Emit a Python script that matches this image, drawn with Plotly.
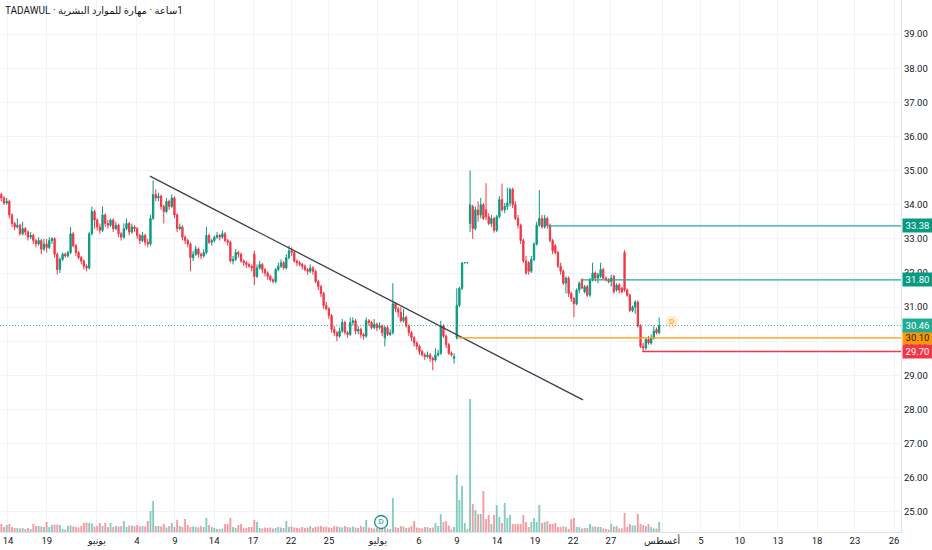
import plotly.graph_objects as go

# hourly bars, x = bar number
bar_index = list(range(248))

opens = [
    34.30, 34.20, 34.05, 34.10, 33.70, 33.45, 33.35, 33.40, 33.15, 33.30,
    33.20, 33.05, 33.10, 32.95, 32.85, 32.95, 32.70, 32.85, 32.75, 32.95,
    33.00, 32.55, 32.10, 32.40, 32.55, 32.50, 32.60, 33.15, 32.80, 32.60,
    32.45, 32.35, 32.20, 32.15, 33.15, 33.80, 33.55, 33.35, 33.25, 33.70,
    33.45, 33.40, 33.55, 33.30, 33.40, 33.15, 33.05, 33.30, 33.45, 33.20,
    33.35, 33.30, 33.10, 32.95, 33.10, 32.90, 32.85, 33.60, 34.30, 34.20,
    34.25, 33.95, 33.80, 34.10, 33.95, 34.20, 33.70, 33.30, 33.35, 33.05,
    32.95, 32.85, 32.45, 32.55, 32.70, 32.55, 32.50, 32.60, 33.10, 32.90,
    32.95, 33.05, 33.10, 33.05, 33.15, 32.95, 32.90, 32.35, 32.40, 32.60,
    32.55, 32.35, 32.30, 32.25, 32.20, 32.55, 31.90, 32.15, 32.25, 32.10,
    32.00, 31.90, 31.80, 31.75, 32.10, 32.20, 32.30, 32.15, 32.45, 32.65,
    32.60, 32.35, 32.30, 32.25, 32.20, 32.10, 32.05, 32.15, 32.05, 31.75,
    31.60, 31.40, 31.05, 30.95, 30.75, 30.35, 30.25, 30.15, 30.30, 30.55,
    30.25, 30.20, 30.55, 30.60, 30.30, 30.35, 30.20, 30.15, 30.60, 30.55,
    30.40, 30.50, 30.40, 30.45, 30.10, 30.40, 30.20, 30.25, 31.10, 30.95,
    30.85, 30.60, 30.70, 30.45, 30.25, 30.10, 29.95, 29.85, 29.70, 29.60,
    29.55, 29.60, 29.50, 29.45, 29.60, 29.65, 30.45, 30.15, 29.90, 29.65,
    29.50, 30.10, 31.05, 31.55, 32.30, 32.30, 33.45, 33.95, 33.30, 33.85,
    33.70, 34.00, 33.85, 33.65, 33.45, 33.60, 33.25, 33.65, 34.15, 33.85,
    33.95, 34.05, 34.45, 34.00, 33.60, 33.40, 32.95, 32.35, 32.30, 32.05,
    32.40, 32.85, 33.40, 33.60, 33.35, 33.60, 33.40, 32.95, 32.80, 32.60,
    32.20, 32.05, 31.70, 31.85, 31.40, 31.25, 31.10, 31.50, 31.80, 31.45,
    31.60, 31.35, 31.80, 32.00, 31.85, 31.90, 32.10, 31.85, 31.80, 31.75,
    31.90, 31.50, 31.65, 31.55, 32.60, 31.50, 31.35, 30.90, 31.00, 31.15,
    30.45, 29.85, 29.80, 30.05, 29.95, 30.10, 30.35, 30.25,
]

highs = [
    34.35, 34.25, 34.20, 34.15, 33.75, 33.50, 33.60, 33.45, 33.50, 33.35,
    33.25, 33.20, 33.15, 33.00, 33.05, 33.00, 33.00, 33.00, 33.05, 33.05,
    33.05, 32.60, 32.45, 32.60, 32.60, 32.65, 33.35, 33.20, 32.85, 32.65,
    32.50, 32.40, 32.25, 33.20, 33.95, 33.85, 33.60, 33.45, 33.95, 33.75,
    33.55, 33.60, 33.60, 33.50, 33.45, 33.20, 33.45, 33.60, 33.50, 33.45,
    33.40, 33.35, 33.15, 33.20, 33.15, 33.00, 33.70, 34.72, 34.45, 34.35,
    34.30, 34.00, 34.20, 34.15, 34.30, 34.25, 33.75, 33.45, 33.40, 33.10,
    33.00, 32.90, 32.65, 32.80, 32.75, 32.60, 32.70, 33.35, 33.15, 33.00,
    33.10, 33.20, 33.15, 33.25, 33.20, 33.00, 32.95, 32.50, 32.70, 32.65,
    32.60, 32.40, 32.35, 32.30, 32.25, 32.65, 32.25, 32.35, 32.30, 32.15,
    32.05, 31.95, 31.85, 32.15, 32.30, 32.40, 32.35, 32.55, 32.80, 32.75,
    32.65, 32.40, 32.35, 32.30, 32.25, 32.15, 32.25, 32.20, 32.10, 31.80,
    31.65, 31.45, 31.15, 31.00, 30.80, 30.45, 30.30, 30.40, 30.65, 30.60,
    30.30, 30.70, 30.70, 30.65, 30.45, 30.40, 30.25, 30.70, 30.65, 30.60,
    30.65, 30.55, 30.55, 30.50, 30.45, 30.45, 30.35, 31.70, 31.15, 31.00,
    31.00, 30.95, 30.75, 30.50, 30.30, 30.15, 30.00, 29.90, 29.75, 29.65,
    29.70, 29.65, 29.55, 29.80, 29.75, 30.60, 30.50, 30.20, 29.95, 29.70,
    29.65, 31.55, 31.60, 32.30, 32.30, 32.30, 35.00, 34.00, 33.95, 34.10,
    34.20, 34.05, 34.63, 33.75, 33.70, 33.65, 33.70, 34.25, 34.62, 34.05,
    34.50, 34.50, 34.50, 34.10, 33.70, 33.45, 33.00, 32.50, 32.35, 32.50,
    32.90, 33.50, 34.43, 33.70, 33.70, 33.65, 33.45, 33.00, 32.85, 32.65,
    32.30, 32.10, 31.90, 31.90, 31.45, 31.30, 31.55, 31.75, 31.85, 31.65,
    31.65, 31.85, 32.30, 32.05, 32.00, 32.30, 32.15, 31.90, 31.85, 31.95,
    31.95, 31.70, 31.70, 31.60, 32.67, 31.55, 31.40, 31.05, 31.20, 31.20,
    30.50, 29.95, 30.10, 30.15, 30.20, 30.45, 30.40, 30.70,
]

lows = [
    34.10, 34.00, 34.00, 33.60, 33.35, 33.25, 33.30, 33.10, 33.10, 33.10,
    32.95, 33.00, 32.85, 32.75, 32.80, 32.55, 32.65, 32.60, 32.70, 32.85,
    32.45, 31.95, 32.00, 32.35, 32.45, 32.45, 32.55, 32.75, 32.50, 32.40,
    32.25, 32.10, 32.05, 32.10, 33.10, 33.30, 33.25, 33.15, 33.20, 33.35,
    33.30, 33.35, 33.20, 33.25, 33.05, 32.95, 33.00, 33.25, 33.10, 33.15,
    33.20, 33.00, 32.85, 32.90, 32.80, 32.75, 32.80, 33.55, 34.10, 34.10,
    33.85, 33.45, 33.75, 33.85, 33.90, 33.60, 33.20, 33.25, 32.95, 32.85,
    32.75, 32.05, 32.35, 32.50, 32.45, 32.40, 32.45, 32.55, 32.85, 32.80,
    32.90, 33.00, 32.95, 33.00, 32.90, 32.80, 32.30, 32.25, 32.35, 32.45,
    32.30, 32.20, 32.15, 32.15, 32.05, 31.65, 31.85, 32.10, 32.00, 31.90,
    31.80, 31.75, 31.70, 31.70, 32.05, 32.15, 32.10, 32.10, 32.40, 32.50,
    32.30, 32.20, 32.20, 32.10, 32.05, 31.95, 32.00, 31.95, 31.70, 31.50,
    31.30, 30.95, 30.90, 30.65, 30.25, 30.15, 30.00, 30.10, 30.25, 30.20,
    30.10, 30.15, 30.45, 30.20, 30.20, 30.10, 30.05, 30.10, 30.45, 30.35,
    30.35, 30.30, 30.35, 30.15, 29.85, 30.15, 30.15, 30.20, 30.85, 30.70,
    30.55, 30.55, 30.40, 30.15, 30.00, 29.85, 29.75, 29.60, 29.55, 29.45,
    29.50, 29.40, 29.15, 29.40, 29.55, 29.60, 30.10, 29.80, 29.60, 29.55,
    29.35, 30.05, 31.00, 31.50, 32.30, 32.30, 33.20, 33.00, 33.25, 33.50,
    33.60, 33.55, 33.55, 33.40, 33.35, 33.18, 33.20, 33.60, 33.80, 33.75,
    33.85, 33.95, 33.90, 33.55, 33.30, 32.85, 32.30, 31.95, 31.95, 32.00,
    32.35, 32.80, 33.35, 33.30, 33.30, 33.30, 32.90, 32.55, 32.55, 32.15,
    31.95, 31.65, 31.40, 31.30, 31.15, 30.70, 31.05, 31.40, 31.55, 31.40,
    31.30, 31.30, 31.75, 31.75, 31.70, 31.85, 31.80, 31.75, 31.70, 31.60,
    31.40, 31.45, 31.40, 31.40, 31.45, 31.30, 30.85, 30.85, 30.80, 30.40,
    29.80, 29.70, 29.75, 29.90, 29.90, 30.05, 30.20, 30.20,
]

closes = [
    34.20, 34.05, 34.10, 33.70, 33.45, 33.35, 33.40, 33.15, 33.30, 33.20,
    33.05, 33.10, 32.95, 32.85, 32.95, 32.70, 32.85, 32.75, 32.95, 33.00,
    32.55, 32.10, 32.40, 32.55, 32.50, 32.60, 33.15, 32.80, 32.60, 32.45,
    32.35, 32.20, 32.15, 33.15, 33.80, 33.55, 33.35, 33.25, 33.70, 33.45,
    33.40, 33.55, 33.30, 33.40, 33.15, 33.05, 33.30, 33.45, 33.20, 33.35,
    33.30, 33.10, 32.95, 33.10, 32.90, 32.85, 33.60, 34.30, 34.20, 34.25,
    33.95, 33.80, 34.10, 33.95, 34.20, 33.70, 33.30, 33.35, 33.05, 32.95,
    32.85, 32.45, 32.55, 32.70, 32.55, 32.50, 32.60, 33.10, 32.90, 32.95,
    33.05, 33.10, 33.05, 33.15, 32.95, 32.90, 32.35, 32.40, 32.60, 32.55,
    32.35, 32.30, 32.25, 32.20, 32.15, 31.90, 32.15, 32.25, 32.10, 32.00,
    31.90, 31.80, 31.75, 32.10, 32.20, 32.30, 32.15, 32.45, 32.65, 32.60,
    32.35, 32.30, 32.25, 32.20, 32.10, 32.05, 32.15, 32.05, 31.75, 31.60,
    31.40, 31.05, 30.95, 30.75, 30.35, 30.25, 30.15, 30.30, 30.55, 30.25,
    30.20, 30.55, 30.60, 30.30, 30.35, 30.20, 30.15, 30.60, 30.55, 30.40,
    30.50, 30.40, 30.45, 30.25, 30.40, 30.20, 30.25, 31.10, 30.95, 30.85,
    30.60, 30.70, 30.45, 30.25, 30.10, 29.95, 29.85, 29.70, 29.60, 29.55,
    29.60, 29.50, 29.45, 29.60, 29.65, 30.45, 30.15, 29.90, 29.65, 29.60,
    29.55, 31.05, 31.55, 32.30, 32.30, 32.30, 34.00, 33.30, 33.85, 33.70,
    34.00, 33.60, 33.65, 33.45, 33.60, 33.25, 33.65, 34.15, 33.85, 33.95,
    34.05, 34.45, 34.00, 33.60, 33.40, 32.95, 32.35, 32.00, 32.05, 32.40,
    32.85, 33.40, 33.60, 33.35, 33.60, 33.40, 32.95, 32.65, 32.60, 32.20,
    32.05, 31.70, 31.85, 31.40, 31.25, 31.10, 31.50, 31.70, 31.55, 31.60,
    31.35, 31.80, 32.00, 31.85, 31.95, 32.10, 31.85, 31.80, 31.75, 31.85,
    31.45, 31.65, 31.50, 31.45, 31.50, 31.35, 30.90, 31.00, 31.15, 30.45,
    29.85, 29.80, 30.05, 29.95, 30.10, 30.30, 30.25, 30.46,
]

# volume in thousands of shares
volumes = [
    80, 50, 70, 80, 50, 40, 40, 35, 40, 30,
    40, 30, 80, 60, 60, 55, 50, 100, 50, 70,
    75, 75, 70, 30, 25, 60, 65, 55, 50, 45,
    60, 90, 95, 90, 85, 55, 60, 90, 60, 90,
    50, 90, 50, 60, 55, 60, 110, 50, 65, 65,
    60, 70, 55, 60, 55, 110, 210, 310, 60, 60,
    55, 80, 45, 60, 90, 50, 120, 60, 50, 130,
    70, 50, 55, 50, 45, 60, 50, 140, 70, 50,
    40, 30, 30, 35, 80, 80, 140, 50, 40, 70,
    80, 35, 40, 50, 50, 120, 100, 40, 35, 45,
    40, 45, 35, 40, 50, 45, 40, 110, 50, 55,
    45, 40, 35, 50, 40, 45, 60, 40, 50, 55,
    60, 50, 55, 45, 40, 60, 55, 50, 45, 60,
    50, 45, 55, 45, 40, 60, 50, 120, 45, 40,
    35, 40, 30, 45, 40, 35, 30, 340, 50, 40,
    60, 55, 40, 45, 60, 110, 45, 40, 35, 50,
    50, 40, 45, 90, 60, 180, 100, 110, 65, 25,
    50, 570, 320, 460, 90, 30, 1330, 280, 220, 180,
    180, 410, 130, 170, 80, 170, 270, 150, 90, 290,
    140, 170, 80, 80, 80, 80, 170, 100, 50, 100,
    140, 100, 270, 90, 100, 110, 80, 80, 90, 50,
    50, 55, 50, 30, 130, 140, 50, 50, 35, 40,
    40, 80, 55, 55, 50, 50, 35, 30, 25, 80,
    55, 60, 35, 35, 190, 50, 80, 65, 65, 180,
    80, 70, 60, 80, 50, 35, 35, 100,
]

# time axis labels (bar positions)
tick_pos = [2.5, 17.1, 35.9, 50.9, 65.2, 79.9, 94.5, 108.8, 123.0, 141.4, 156.8, 171.1,
            186.1, 200.4, 214.7, 228.9, 248.1, 262.7, 277.3, 291.6, 306.3, 320.5, 335.2]
tick_text = ['14', '19', 'يونيو', '4', '9', '14', '17', '22', '25', 'يوليو', '6', '9',
             '14', '19', '22', '27', 'أغسطس', '5', '10', '13', '18', '23', '26']

price_ticks = [25, 26, 27, 28, 29, 30, 31, 32, 33, 34, 35, 36, 37, 38, 39]

# drawings
trend_x = [55.8, 218.4]
trend_y = [34.84, 28.28]

level_prices = [33.38, 31.80, 30.10, 29.70]
level_start = [204.8, 217.7, 171.1, 240.6]
level_colors = ['#22ab94', '#22ab94', '#ff9800', '#f23645']
level_label_bg = ['#089981', '#089981', '#ff9800', '#f23645']
level_label_fg = ['white', 'white', '#131722', 'white']

last_price = 30.46
div_bar = 142.6
earn_bar = 251.8
earn_price = 30.56

x_range = [-0.5, 337.8]
teal = '#089981'
red = '#f23645'

vol_colors = ['rgba(8,153,129,0.5)' if c >= o else 'rgba(242,54,69,0.5)'
              for o, c in zip(opens, closes)]

fig = go.Figure()

fig.add_trace(go.Bar(
    x=bar_index, y=volumes, yaxis='y2',
    marker=dict(color=vol_colors, line=dict(width=0)),
    hoverinfo='skip', showlegend=False
))

fig.add_trace(go.Candlestick(
    x=bar_index, open=opens, high=highs, low=lows, close=closes,
    increasing=dict(line=dict(color=teal, width=1), fillcolor=teal),
    decreasing=dict(line=dict(color=red, width=1), fillcolor=red),
    whiskerwidth=0, showlegend=False
))

# trend line
fig.add_trace(go.Scatter(
    x=trend_x, y=trend_y, mode='lines',
    line=dict(color='#3c3f48', width=1.3), hoverinfo='skip', showlegend=False
))

# horizontal levels
for p, s, col in zip(level_prices, level_start, level_colors):
    fig.add_trace(go.Scatter(
        x=[s, x_range[1]], y=[p, p], mode='lines',
        line=dict(color=col, width=1.3), hoverinfo='skip', showlegend=False
    ))

# last price dotted line
fig.add_trace(go.Scatter(
    x=x_range, y=[last_price, last_price], mode='lines',
    line=dict(color='rgba(34,171,148,0.85)', width=1, dash='1px,2px'),
    hoverinfo='skip', showlegend=False
))

# earnings marker
fig.add_trace(go.Scatter(
    x=[earn_bar], y=[earn_price], mode='markers+text', text=['D'],
    textposition='middle center',
    textfont=dict(color='#ff9800', size=8, family='Roboto'),
    marker=dict(size=13, color='rgba(255,152,0,0.18)', line=dict(width=0)),
    hoverinfo='skip', showlegend=False
))

# dividend marker in the volume pane
fig.add_trace(go.Scatter(
    x=[div_bar], y=[100], yaxis='y2', mode='markers+text', text=['D'],
    textposition='middle center',
    textfont=dict(color=teal, size=8, family='Roboto'),
    marker=dict(size=13, color='white', line=dict(width=1.3, color=teal)),
    hoverinfo='skip', showlegend=False
))

annotations = []
for p, bg, fg in zip(level_prices + [last_price],
                     level_label_bg + ['#22ab94'],
                     level_label_fg + ['white']):
    annotations.append(dict(
        x=1, xref='paper', xanchor='left', xshift=1,
        y=p, yref='y', yanchor='middle',
        text=f'{p:.2f}', showarrow=False,
        font=dict(size=9.5, color=fg, family='Roboto'),
        bgcolor=bg, borderpad=1, width=27
    ))

annotations.append(dict(
    x=0, xref='paper', xanchor='left', xshift=3,
    y=1, yref='paper', yanchor='top', yshift=-3,
    text='TADAWUL · مهارة للموارد البشرية\u200e · ساعة\u200e1',
    showarrow=False, font=dict(size=10, color='#131722', family='Roboto, DejaVu Sans')
))

fig.update_layout(
    width=932, height=550,
    margin=dict(l=0, r=31, t=0, b=18),
    paper_bgcolor='white', plot_bgcolor='white',
    font=dict(family='Roboto, DejaVu Sans', size=9.5, color='#131722'),
    showlegend=False, bargap=0.3, hovermode=False,
    annotations=annotations,
    xaxis=dict(
        range=x_range, tickmode='array', tickvals=tick_pos, ticktext=tick_text,
        showgrid=True, gridcolor='#f0f3fa', gridwidth=1,
        showline=True, linecolor='#e0e3eb', ticks='', zeroline=False,
        rangeslider=dict(visible=False), tickfont=dict(size=9.5)
    ),
    yaxis=dict(
        side='right', range=[24.41, 40.0],
        tickmode='array', tickvals=price_ticks,
        ticktext=[f'{v:.2f}' for v in price_ticks],
        showgrid=True, gridcolor='#f0f3fa', gridwidth=1,
        showline=True, linecolor='#e0e3eb', ticks='', zeroline=False,
        tickfont=dict(size=9.5)
    ),
    yaxis2=dict(overlaying='y', range=[0, 5320], visible=False, fixedrange=True)
)

# the page's default body margin would shift the chart; remove it
fig.write_html('out.html', config={'displayModeBar': False},
               post_script="document.body.style.margin='0';")
